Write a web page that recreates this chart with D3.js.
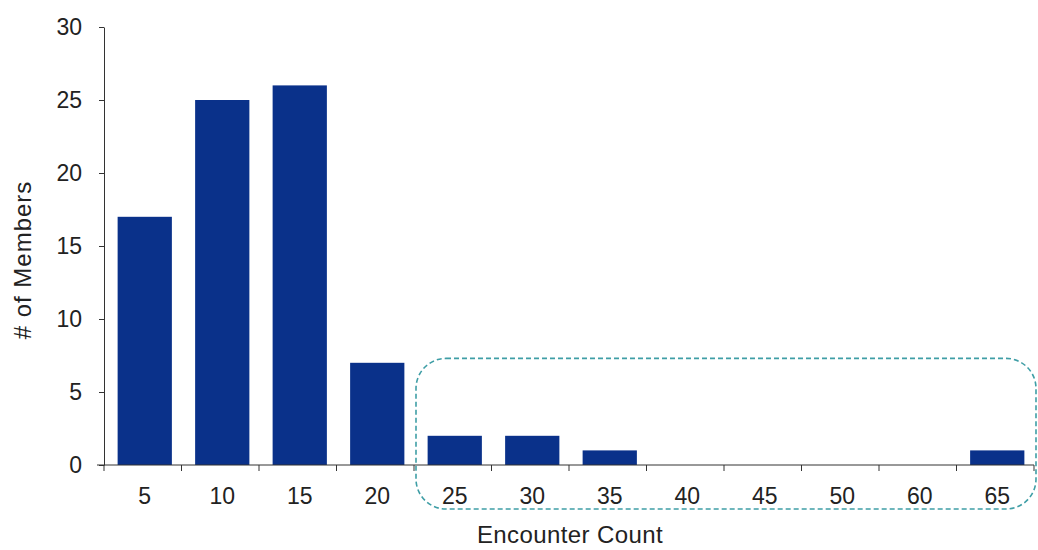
<!doctype html>
<html lang="en">
<head>
<meta charset="utf-8">
<title>Encounter Count</title>
<script src="https://cdn.jsdelivr.net/npm/d3@7"></script>
<style>
  body { margin: 0; background: #fff; }
  svg text { font-family: "Liberation Sans", Arial, sans-serif; fill: #222; }
  .axis path, .axis line { stroke: #333; }
</style>
</head>
<body>
<div id="chart"></div>
<script>
const categories = ['5', '10', '15', '20', '25', '30', '35', '40', '45', '50', '60', '65'];
const members = [17, 25, 26, 7, 2, 2, 1, 0, 0, 0, 0, 1];
const yTicks = [0, 5, 10, 15, 20, 25, 30];
// the dashed box marks the tail of the distribution
const highlightFrom = 4;

const width = 1038, height = 550;
const margin = {top: 27, right: 4, bottom: 85, left: 104};

const svg = d3.select('#chart').append('svg')
    .attr('width', width)
    .attr('height', height);

const x = d3.scaleBand()
    .domain(categories)
    .range([margin.left, width - margin.right])
    .paddingInner(0.3)
    .paddingOuter(0.15);

const y = d3.scaleLinear()
    .domain([0, 30])
    .range([height - margin.bottom, margin.top]);

// bars
svg.append('g').selectAll('rect')
    .data(categories)
    .join('rect')
    .attr('x', d => x(d) + 2)
    .attr('width', x.bandwidth())
    .attr('y', (d, i) => y(members[i]))
    .attr('height', (d, i) => y(0) - y(members[i]))
    .attr('fill', '#0a318a');

// y axis
const yAxis = svg.append('g')
    .attr('class', 'axis')
    .attr('transform', `translate(${margin.left},0)`)
    .call(d3.axisLeft(y).tickValues(yTicks).tickSize(5).tickSizeOuter(0).tickPadding(17));
yAxis.selectAll('text').style('font-size', '23px');

// x axis: ticks sit between the categories
const edges = d3.range(categories.length + 1).map(i => margin.left + i * (width - margin.right - margin.left) / categories.length);
const xg = svg.append('g').attr('class', 'axis');
xg.append('line')
    .attr('x1', margin.left - 7).attr('x2', width - margin.right)
    .attr('y1', y(0)).attr('y2', y(0))
    .attr('stroke', '#333');
xg.selectAll('line.tick')
    .data(edges)
    .join('line')
    .attr('class', 'tick')
    .attr('x1', d => d).attr('x2', d => d)
    .attr('y1', y(0)).attr('y2', y(0) + 6)
    .attr('stroke', '#333');
xg.selectAll('text')
    .data(categories)
    .join('text')
    .attr('x', d => x(d) + 2 + x.bandwidth() / 2)
    .attr('y', y(0) + 39)
    .attr('text-anchor', 'middle')
    .style('font-size', '23px')
    .text(d => d);

// axis titles
svg.append('text')
    .attr('transform', `translate(31,${(y(0) + y(30)) / 2 + 14}) rotate(-90)`)
    .attr('text-anchor', 'middle')
    .style('font-size', '24px')
    .style('letter-spacing', '1px')
    .text('# of Members');

svg.append('text')
    .attr('x', 570)
    .attr('y', 543)
    .attr('text-anchor', 'middle')
    .style('font-size', '24px')
    .style('letter-spacing', '0.4px')
    .text('Encounter Count');

// dashed highlight box
const boxLeft = edges[highlightFrom] + 2;
svg.append('rect')
    .attr('x', boxLeft)
    .attr('y', y(7.3))
    .attr('width', width - 2 - boxLeft)
    .attr('height', 509 - y(7.3))
    .attr('rx', 30)
    .attr('fill', 'none')
    .attr('stroke', '#3f9ea6')
    .attr('stroke-width', 1.6)
    .attr('stroke-dasharray', '5,3');
</script>
</body>
</html>
